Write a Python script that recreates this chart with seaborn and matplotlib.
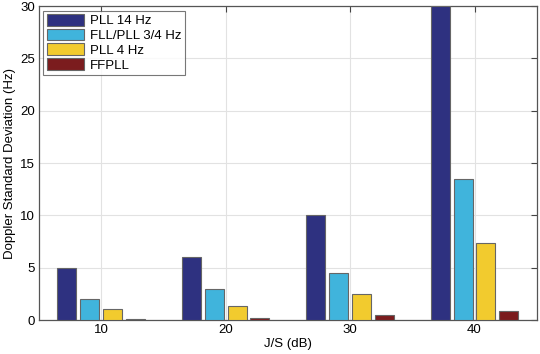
import pandas as pd
import seaborn as sns
import matplotlib.pyplot as plt

js_db = ["10", "20", "30", "40"]
pll14 = [5.0, 6.0, 10.0, 30.0]
fll_pll = [2.0, 3.0, 4.5, 13.5]
pll4 = [1.05, 1.3, 2.5, 7.4]
ffpll = [0.1, 0.2, 0.5, 0.9]
series_names = ["PLL 14 Hz", "FLL/PLL 3/4 Hz", "PLL 4 Hz", "FFPLL"]
colors = ["#2e3180", "#40b4dc", "#f2cb2e", "#7b1c1e"]

df = pd.DataFrame({
    "J/S": js_db * 4,
    "value": pll14 + fll_pll + pll4 + ffpll,
    "method": [n for n in series_names for _ in js_db],
})

sns.set_style("white")
plt.rcParams["font.family"] = ["Liberation Sans", "DejaVu Sans"]
plt.rcParams["text.color"] = "black"
plt.rcParams["axes.labelcolor"] = "black"

fig = plt.figure(figsize=(5.4, 3.54), dpi=100)
ax = fig.add_axes([0.072, 0.096, 0.922, 0.887])
sns.barplot(data=df, x="J/S", y="value", hue="method", palette=colors,
            saturation=1, width=0.736, gap=0.17, edgecolor="#666666",
            linewidth=0.8, errorbar=None, ax=ax, zorder=3)

ax.set_xlim(-0.5, 3.5)
ax.set_ylim(0, 30)
ax.set_yticks([0, 5, 10, 15, 20, 25, 30])
ax.grid(True, color="#e2e2e2", linewidth=0.8, linestyle="-", zorder=0)
ax.set_axisbelow(True)
ax.tick_params(direction="in", length=4, labelsize=9.5, color="#444444",
               labelcolor="black", top=True, right=True, pad=3)
for s in ax.spines.values():
    s.set_color("#555555")
    s.set_linewidth(0.9)
ax.set_xlabel("J/S (dB)", fontsize=9.5, labelpad=1)
ax.set_ylabel("Doppler Standard Deviation (Hz)", fontsize=9.5, labelpad=3)

leg = ax.legend(loc="upper left", fontsize=9.5, frameon=True, fancybox=False,
                edgecolor="#555555", borderaxespad=0.35, handlelength=2.8,
                handleheight=1.0, labelspacing=0.1, borderpad=0.25,
                handletextpad=0.5)
leg.get_frame().set_linewidth(0.8)

fig.savefig("out.png", dpi=100)
